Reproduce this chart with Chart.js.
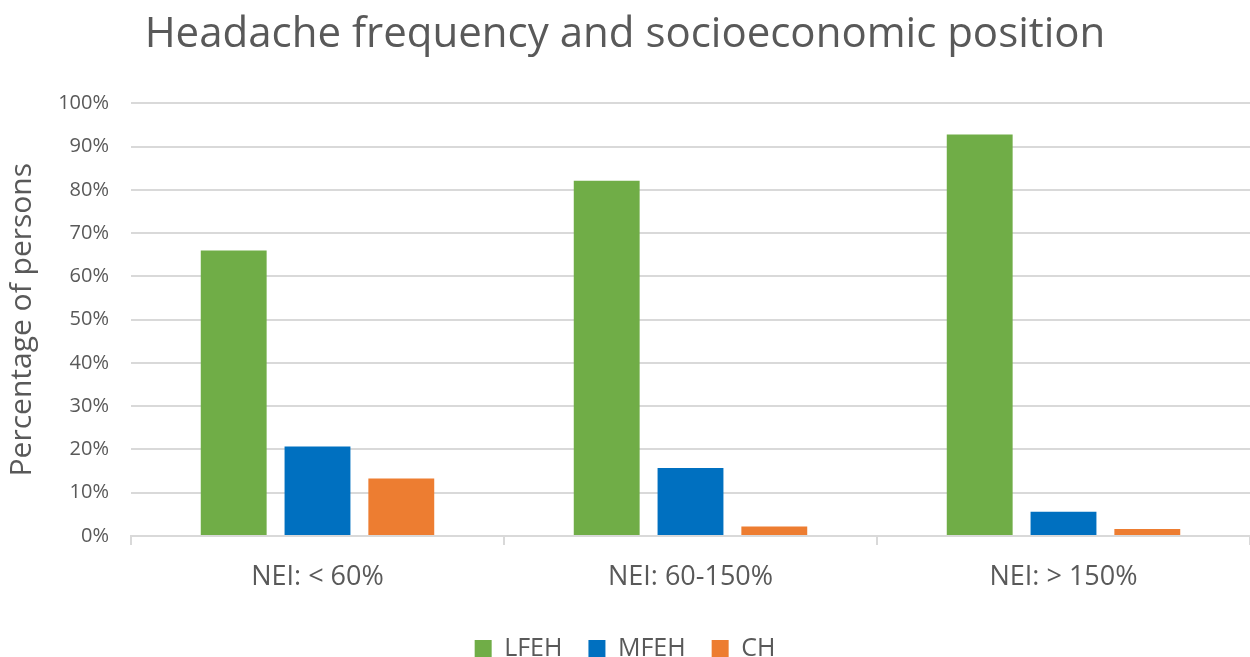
<!DOCTYPE html>
<html>
<head>
<meta charset="utf-8">
<script src="https://cdn.jsdelivr.net/npm/chart.js@4.4.1/dist/chart.umd.min.js"></script>
<style>
  html, body { margin: 0; padding: 0; background: #ffffff; }
  #wrap { width: 1250px; height: 657px; }
</style>
</head>
<body>
<div id="wrap"><canvas id="chart"></canvas></div>
<script>
// Income groups (NEI = net equivalised income)
const categories = ['NEI: < 60%', 'NEI: 60-150%', 'NEI: > 150%'];

// Share of persons per headache type, in percent
const lfeh = [66.0, 82.1, 92.8];
const mfeh = [20.7, 15.7, 5.6];
const ch   = [13.3, 2.2, 1.6];

const seriesNames = ['LFEH', 'MFEH', 'CH'];
const yTicks = [0, 10, 20, 30, 40, 50, 60, 70, 80, 90, 100];

const TEXT = '#595959';
const GRID = '#d9d9d9';
const FONT = "'Open Sans', sans-serif";

new Chart(document.getElementById('chart'), {
  type: 'bar',
  data: {
    labels: categories,
    datasets: [
      { label: seriesNames[0], data: lfeh, backgroundColor: '#70AD47' },
      { label: seriesNames[1], data: mfeh, backgroundColor: '#0070C0' },
      { label: seriesNames[2], data: ch,   backgroundColor: '#ED7D31' }
    ]
  },
  options: {
    responsive: true,
    maintainAspectRatio: false,
    animation: false,
    layout: { padding: { left: 0, right: 0, top: 0, bottom: -14 } },
    datasets: { bar: { categoryPercentage: 0.674, barPercentage: 0.786 } },
    plugins: {
      title: {
        display: true,
        text: 'Headache frequency and socioeconomic position',
        color: TEXT,
        font: { family: FONT, size: 42, weight: 'normal' },
        padding: { top: 10, bottom: 43 }
      },
      legend: {
        position: 'bottom',
        labels: {
          color: TEXT,
          font: { family: FONT, size: 25 },
          boxWidth: 17,
          boxHeight: 17,
          padding: 26
        }
      },
      tooltip: { enabled: false }
    },
    scales: {
      x: {
        afterFit: (scale) => { scale.height = 74; },
        grid: {
          display: true,
          offset: true,
          drawOnChartArea: false,
          drawTicks: true,
          tickLength: 9,
          color: GRID,
          lineWidth: 2
        },
        border: { display: true, color: GRID, width: 2 },
        ticks: { color: TEXT, font: { family: FONT, size: 27 }, padding: 16 }
      },
      y: {
        min: 0,
        max: 100,
        afterBuildTicks: (scale) => { scale.ticks = yTicks.map(v => ({ value: v })); },
        afterFit: (scale) => { scale.width = 131; },
        grid: { color: GRID, lineWidth: 2, drawTicks: false },
        border: { display: false },
        ticks: {
          color: TEXT,
          font: { family: FONT, size: 20 },
          padding: 22,
          callback: (v) => v + '%'
        },
        title: {
          display: true,
          text: 'Percentage of persons',
          color: TEXT,
          font: { family: FONT, size: 30 },
          padding: { top: 4, bottom: 0 }
        }
      }
    }
  }
});
</script>
</body>
</html>
